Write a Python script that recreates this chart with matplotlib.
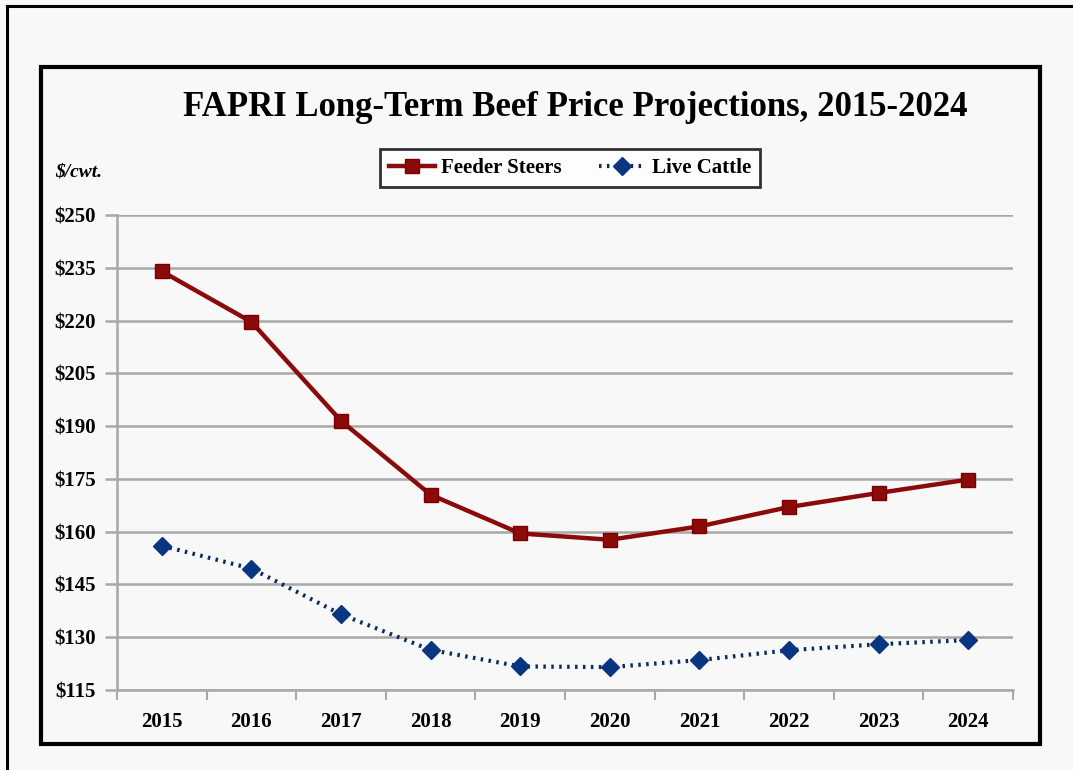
import matplotlib.pyplot as plt
import matplotlib.ticker as mtick
from matplotlib.lines import Line2D
from matplotlib.patches import Rectangle

years = ['2015', '2016', '2017', '2018', '2019', '2020', '2021', '2022', '2023', '2024']
feeder_steers = [234.0, 219.6, 191.5, 170.5, 159.5, 157.7, 161.5, 167.0, 171.0, 174.8]
live_cattle = [156.0, 149.5, 136.5, 126.4, 121.7, 121.5, 123.5, 126.3, 128.0, 129.2]
y_ticks = [115, 130, 145, 160, 175, 190, 205, 220, 235, 250]

plt.rcParams['font.family'] = ['Liberation Serif', 'DejaVu Serif']
plt.rcParams['font.weight'] = 'bold'

W, H = 1073, 770
fig = plt.figure(figsize=(W / 100, H / 100), dpi=100, facecolor='#f8f8f8')

# screenshot frame (left and top edges only) and the chart box
fig.add_artist(Line2D([7 / W, 7 / W], [0, 1 - 6 / H], color='black', lw=2.2))
fig.add_artist(Line2D([7 / W, 1], [1 - 6 / H, 1 - 6 / H], color='black', lw=2.2))
fig.add_artist(Rectangle((41 / W, 1 - 744 / H), (1040 - 41) / W, (744 - 67) / H,
                         fill=False, edgecolor='black', lw=3))

ax = fig.add_axes([117 / W, 1 - 690 / H, (1013 - 117) / W, (690 - 215) / H])
ax.set_facecolor('#f8f8f8')
x = list(range(len(years)))

ax.plot(x, feeder_steers, color='#8b0a0a', lw=3.2, marker='s', markersize=10,
        markeredgecolor='#7a0000', label='Feeder Steers', zorder=3)
ax.plot(x, live_cattle, color='#0d2a5c', lw=3, linestyle=(0, (0.6, 1.3)),
        marker='D', markersize=9, markerfacecolor='#0a3580', markeredgecolor='#0a3580',
        label='Live Cattle', zorder=3)

ax.set_xlim(-0.5, 9.5)
ax.set_ylim(115, 250)
ax.set_yticks(y_ticks)
ax.yaxis.set_major_formatter(mtick.FuncFormatter(lambda v, p: '$' + format(int(v))))
ax.grid(axis='y', color='#a8a8a8', lw=1.8)
ax.set_axisbelow(True)

ax.set_xticks([i - 0.5 for i in range(len(years) + 1)])
ax.set_xticklabels([])
ax.set_xticks(x, minor=True)
ax.set_xticklabels(years, minor=True)
ax.tick_params(axis='x', which='major', length=7, width=1.5, color='#a8a8a8', direction='out')
ax.tick_params(axis='x', which='minor', length=0, pad=16, labelsize=15)
ax.tick_params(axis='y', length=9, width=1.8, color='#a8a8a8', pad=6, labelsize=15)

for side in ['top', 'right']:
    ax.spines[side].set_visible(False)
for side in ['left', 'bottom']:
    ax.spines[side].set_color('#a8a8a8')
    ax.spines[side].set_linewidth(1.8)

fig.text(575 / W, 1 - 107 / H, 'FAPRI Long-Term Beef Price Projections, 2015-2024',
         ha='center', va='center', fontsize=25, fontweight='bold')
fig.text(55 / W, 1 - 172 / H, '$/cwt.', ha='left', va='center', fontsize=14,
         fontweight='bold', style='italic')

leg = ax.legend(loc='center', bbox_to_anchor=(570 / W, 1 - 168 / H),
                bbox_transform=fig.transFigure, ncol=2, frameon=True, fancybox=False,
                fontsize=15, handlelength=2.2, handletextpad=0.3, columnspacing=1.8,
                borderpad=0.45, facecolor='white')
leg.get_frame().set_edgecolor('black')
leg.get_frame().set_linewidth(2)

plt.savefig('out.png', dpi=100, facecolor=fig.get_facecolor())
